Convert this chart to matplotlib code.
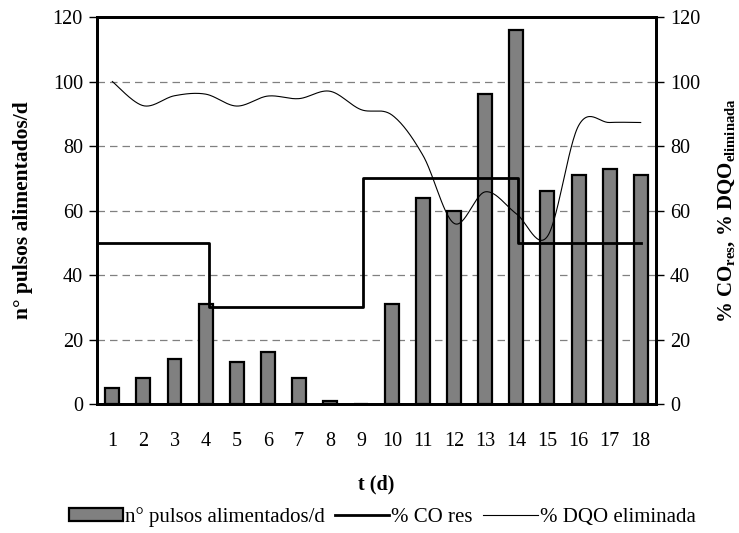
import numpy as np
import matplotlib
matplotlib.use("Agg")
import matplotlib.pyplot as plt
from matplotlib.patches import Patch
from matplotlib.lines import Line2D

plt.rcParams['font.family'] = ['Liberation Serif', 'DejaVu Serif']
plt.rcParams['mathtext.fontset'] = 'custom'
plt.rcParams['mathtext.rm'] = 'Liberation Serif'
plt.rcParams['mathtext.bf'] = 'Liberation Serif:bold'

days = list(range(1, 19))
day_labels = [str(d) for d in days]
pulsos = [5, 8, 14, 31, 13, 16, 8, 1, 0, 31, 64, 60, 96, 116, 66, 71, 73, 71]
dqo_elim = [100, 92.5, 95.6, 96.1, 92.4, 95.5, 94.7, 97.0, 91.3, 89.6,
            77.0, 56.0, 65.8, 59.0, 52.0, 86.3, 87.3, 87.3]
# residual CO (%), step profile: (day, value)
co_res_t = [0.5, 4.1, 4.1, 9.05, 9.05, 14.05, 14.05, 18.0]
co_res_v = [50, 50, 30, 30, 70, 70, 50, 50]


def smooth_curve(x, y, n=30):
    """Cubic Bezier smoothing through every point (Catmull-Rom style)."""
    x = np.asarray(x, float)
    y = np.asarray(y, float)
    px = np.concatenate([[x[0]], x, [x[-1]]])
    py = np.concatenate([[y[0]], y, [y[-1]]])
    xs, ys = [], []
    t = np.linspace(0, 1, n)
    for i in range(1, len(px) - 2):
        p0 = np.array([px[i], py[i]])
        p3 = np.array([px[i + 1], py[i + 1]])
        c1 = p0 + (np.array([px[i + 1], py[i + 1]]) - np.array([px[i - 1], py[i - 1]])) / 6
        c2 = p3 - (np.array([px[i + 2], py[i + 2]]) - np.array([px[i], py[i]])) / 6
        b = ((1 - t) ** 3)[:, None] * p0 + (3 * (1 - t) ** 2 * t)[:, None] * c1 \
            + (3 * (1 - t) * t ** 2)[:, None] * c2 + (t ** 3)[:, None] * p3
        xs.extend(b[:, 0])
        ys.extend(b[:, 1])
    return np.array(xs), np.array(ys)


fig = plt.figure(figsize=(7.39, 5.33), dpi=100)
ax = fig.add_axes([0.131, 0.242, 0.757, 0.726])
ax2 = ax.twinx()

ax.bar(days, pulsos, width=0.45, color='#808080', edgecolor='black',
       linewidth=1.6, zorder=3)
ax.set_xlim(0.5, 18.5)
ax.set_ylim(0, 120)
ax.set_yticks(range(0, 121, 20))
ax.set_xticks(days)
ax.set_xticklabels(day_labels)
for yv in range(20, 101, 20):
    ax.axhline(yv, color='#808080', linestyle=(0, (6, 4)), linewidth=0.9, zorder=1)

ax2.plot(co_res_t, co_res_v, color='black', linewidth=2.0, zorder=4)
sx, sy = smooth_curve(days, dqo_elim)
ax2.plot(sx, sy, color='black', linewidth=0.8, zorder=4)
ax2.set_ylim(0, 120)
ax2.set_yticks(range(0, 121, 20))
ax2.set_xlim(0.5, 18.5)

for a in (ax, ax2):
    for sp in a.spines.values():
        sp.set_linewidth(2.0)
        sp.set_color('black')
ax.tick_params(axis='y', direction='out', length=6, width=1, labelsize=14.5, pad=4)
ax2.tick_params(axis='y', direction='out', length=6, width=1, labelsize=14.5, pad=4)
ax.tick_params(axis='x', length=0, labelsize=14.5, pad=20)

ax.set_xlabel('t (d)', fontsize=14.5, fontweight='bold', labelpad=17)
ax.set_ylabel('n° pulsos alimentados/d', fontsize=15.5, fontweight='bold', labelpad=14)
ax2.set_ylabel(r'% CO$_{\mathbf{res}}$, % DQO$_{\mathbf{eliminada}}$',
               fontsize=15, fontweight='bold', labelpad=12)

handles = [
    Patch(facecolor='#808080', edgecolor='black', linewidth=1.6),
    Line2D([0], [0], color='black', linewidth=2.0),
    Line2D([0], [0], color='black', linewidth=0.8),
]
labels = ['n° pulsos alimentados/d', '% CO res', '% DQO eliminada']
fig.legend(handles, labels, loc='center', bbox_to_anchor=(0.517, 0.03),
           ncol=3, frameon=False, fontsize=15, handlelength=2.6,
           handletextpad=0.1, columnspacing=0.5, handleheight=0.55,
           borderaxespad=0, borderpad=0)

fig.savefig('out.png', dpi=100)
